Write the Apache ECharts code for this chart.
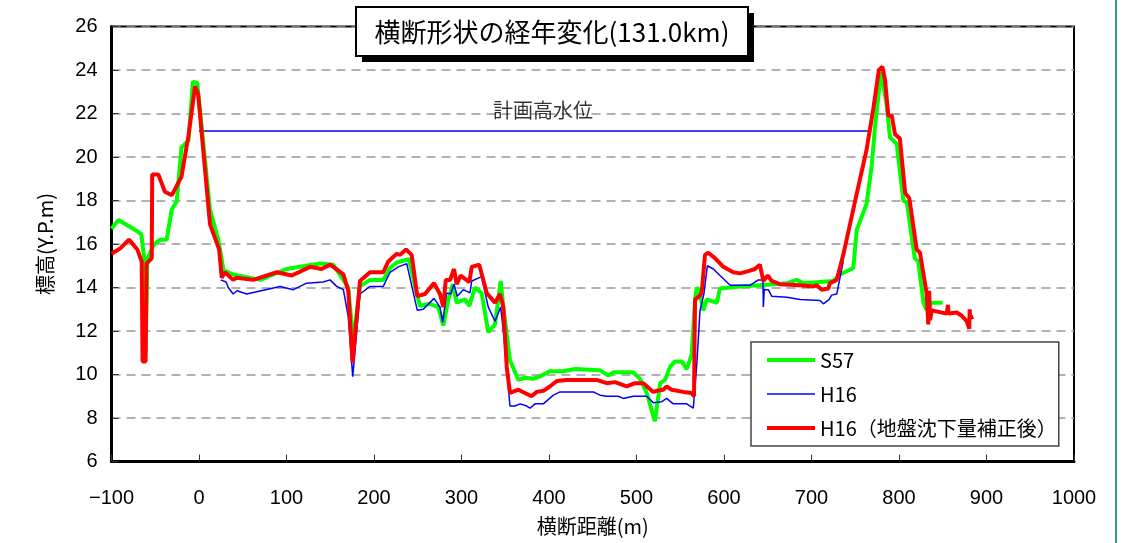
<!DOCTYPE html>
<html>
<head>
<meta charset="utf-8">
<script src="https://cdn.jsdelivr.net/npm/echarts@6/dist/echarts.min.js"></script>
<style>
html,body{margin:0;padding:0;background:#fff;}
#chart{width:1137px;height:543px;}
</style>
</head>
<body>
<div id="chart"></div>
<script>
// ---- data (横断距離 m, 標高 Y.P.m) ----
const titleText = '横断形状の経年変化(131.0km)';
const xAxisName = '横断距離(m)';
const yAxisName = '標高(Y.P.m)';
const seriesNames = ['S57', 'H16', 'H16（地盤沈下量補正後）'];
const hwlName = '計画高水位';
const xRange = [-100, 1000, 100];
const yRange = [6, 26, 2];

const s57 = [[-100,16.7],[-92,17.1],[-71,16.6],[-66,16.45],[-62.5,15.3],[-61,11.0],[-59.5,11.0],[-59,15.3],[-52,15.95],[-44.5,16.2],[-37,16.2],[-31,17.6],[-25.5,17.95],[-20,20.45],[-12,20.75],[-7,23.45],[-2,23.4],[12.5,17.6],[22,16.2],[28,14.8],[39,14.6],[70,14.35],[100,14.85],[138,15.1],[153.5,15.05],[170.5,14.0],[176.3,11.5],[184,14.05],[195.4,14.35],[210.6,14.35],[218.3,14.9],[226,15.15],[240,15.3],[248,13.85],[252.6,13.15],[264,13.25],[273.5,13.1],[279.2,12.25],[285,13.45],[290,14.15],[294.5,13.3],[304,13.45],[309,13.15],[315.4,14.0],[323,13.75],[330.6,11.95],[338.3,12.3],[344.8,14.3],[347.8,13.1],[355.4,10.65],[365,9.75],[372.6,9.85],[382,9.8],[391.7,9.95],[401,10.15],[416,10.15],[430,10.25],[458,10.2],[468,9.95],[473.5,10.1],[496,10.1],[504,9.8],[511.7,9.15],[521,7.85],[527,9.6],[532.6,9.75],[538.3,10.35],[544,10.6],[551.7,10.6],[557.4,10.25],[563,10.9],[567,13.45],[568.8,14.0],[571.8,13.85],[576.3,12.95],[580.2,13.45],[591.7,13.3],[595.4,13.95],[607,14.0],[618,14.05],[641,14.1],[672,14.2],[683,14.35],[690.6,14.2],[725,14.3],[732.6,14.6],[747.8,14.9],[751.7,16.65],[763,17.85],[768.8,19.6],[772.6,21.4],[779.4,23.9],[781,23.6],[786,22.35],[789.7,20.9],[797.4,20.6],[805,18.0],[809,17.9],[818,15.35],[822,15.2],[828,13.3],[831.7,12.95],[837.4,13.3],[850,13.3]];

const h16 = [[24.8,14.35],[31,14.25],[33.5,14.0],[39,13.7],[43.4,13.85],[54.5,13.7],[92.6,14.05],[107.8,13.9],[123,14.2],[142,14.25],[149.7,14.35],[157.4,14.05],[165,13.9],[170.6,12.65],[175.7,9.9],[184,13.7],[195.4,14.05],[210.6,14.05],[218.3,14.7],[227.8,14.95],[237.4,15.1],[249.5,12.95],[256.3,13.0],[268.6,13.5],[275.4,13.1],[278.5,12.4],[283,13.75],[287.7,13.7],[291.4,14.15],[295.2,13.6],[302,13.9],[309.7,13.75],[311.7,14.3],[323,14.5],[330.6,13.1],[338.3,12.45],[344.8,13.1],[348.6,11.7],[355.4,8.55],[361,8.55],[367,8.65],[374.5,8.55],[378.3,8.45],[384,8.65],[393.5,8.65],[405,9.05],[412.6,9.2],[450.6,9.2],[458.3,9.05],[466,9.0],[479,9.0],[485,8.9],[496.3,9.0],[511.7,9.0],[519.2,8.7],[528.8,8.75],[534.5,8.9],[542,8.65],[557.4,8.65],[564.9,8.45],[566.5,8.4],[568.8,10.4],[572.6,12.95],[577,13.7],[581,15.0],[587.8,14.85],[595.4,14.55],[607,14.1],[629.7,14.1],[639.2,14.35],[644.5,14.35],[645,13.1],[646,13.9],[650.6,13.9],[654.5,13.6],[671.7,13.55],[687,13.45],[709.7,13.4],[713.5,13.25],[720.3,13.45],[723,13.65],[728.8,13.7],[732.6,14.45],[736.3,15.2]];

const h16c = [[-100,15.55],[-90,15.8],[-80,16.2],[-70.5,15.75],[-65.5,15.2],[-64.5,10.6],[-61,10.6],[-60,15.1],[-54,15.35],[-53.5,19.2],[-46.5,19.2],[-39,18.4],[-31,18.25],[-20,19.1],[-12,21.0],[-4.5,23.25],[-3,23.3],[-1,22.9],[12.6,16.9],[23,15.75],[26,14.45],[29.7,14.7],[39,14.35],[43,14.45],[62,14.35],[89,14.7],[106,14.55],[127,14.95],[140,14.85],[150,15.05],[165,14.6],[170.6,13.85],[175.5,10.55],[184,14.3],[195.4,14.7],[210.6,14.7],[216.3,15.2],[226,15.55],[229.7,15.5],[236.6,15.75],[243,15.5],[249.5,13.6],[258.3,13.7],[268.6,14.2],[275.4,13.7],[279.2,13.1],[282,14.35],[287,14.35],[291.4,14.85],[294.5,14.15],[299,14.55],[309,14.25],[311.7,14.95],[320.3,15.05],[328.8,13.75],[338.3,13.3],[344,13.7],[347.8,13.1],[351.7,10.35],[355.4,9.15],[365,9.3],[380,9.0],[386,9.2],[393.5,9.25],[401,9.45],[409,9.7],[420,9.75],[454.5,9.75],[466,9.6],[475.4,9.65],[488.8,9.45],[498.3,9.6],[507.8,9.6],[519.2,9.2],[523,9.25],[530.6,9.3],[534.5,9.45],[540.2,9.3],[553.5,9.2],[563,9.15],[565.7,9.0],[566.9,13.45],[571.8,13.6],[574.5,13.75],[578.3,15.5],[582,15.6],[589.7,15.35],[599.2,14.95],[610.6,14.7],[618.3,14.65],[627.8,14.75],[635.4,14.85],[641,15.05],[645,14.3],[650,14.55],[654.5,14.3],[664,14.15],[687,14.1],[702,14.05],[706,14.1],[711.7,13.9],[719.2,13.95],[721,14.2],[728.8,14.35],[736.3,15.5],[749.7,17.95],[763,20.35],[770.6,22.2],[777,24.0],[781,24.15],[784,23.55],[787.8,21.9],[791.7,21.9],[795.4,21.05],[801,20.85],[807,18.35],[811.8,18.1],[820.2,15.75],[824,15.6],[831.7,13.7],[833.5,12.3],[834.5,13.85],[835.5,12.5],[837.4,12.95],[854.5,12.8],[856,13.2],[856.5,12.8],[866,12.85],[871.7,12.7],[877.4,12.45],[880.3,12.1],[880.8,13.0],[881.3,12.6],[885,12.65]];

const hwl = [[0,21.2],[765,21.2]];
const hwlLabelPos = [[393,21.2]];

// ---- chart ----
const JP = '"Noto Sans CJK JP", "Noto Sans", sans-serif';
const NUM = '"Liberation Sans", Arial, sans-serif';
const chart = echarts.init(document.getElementById('chart'), null, {renderer:'canvas'});

const thickIcon = 'path://M0 0H48V4H0Z';
const thinIcon = 'path://M0 0H48V1.5H0Z';

const option = {
  animation: false,
  backgroundColor: '#fff',
  grid: {left: 111.5, right: 63, top: 26.5, bottom: 81.5, show: true, borderColor: '#000', borderWidth: 2, backgroundColor: 'transparent'},
  legend: {
    data: [
      {name: seriesNames[0], icon: thickIcon},
      {name: seriesNames[1], icon: thinIcon},
      {name: seriesNames[2], icon: thickIcon}
    ],
    orient: 'vertical',
    left: 751, top: 342,
    padding: [8, 2, 8, 16],
    itemWidth: 48, itemHeight: 14, itemGap: 14,
    symbolKeepAspect: true,
    backgroundColor: '#fff', borderColor: '#444', borderWidth: 1.5,
    textStyle: {fontSize: 20, fontFamily: JP, color: '#000'},
    z: 50
  },
  xAxis: {
    type: 'value', min: xRange[0], max: xRange[1], interval: xRange[2],
    name: xAxisName, nameLocation: 'middle', nameGap: 55,
    nameTextStyle: {fontSize: 20, fontFamily: JP, color: '#000'},
    axisLine: {onZero: false, lineStyle: {color: '#000', width: 3}},
    axisTick: {inside: true, length: 7, lineStyle: {color: '#333', width: 1}},
    axisLabel: {fontSize: 20, fontFamily: NUM, color: '#000', margin: 27,
      formatter: v => String(v).replace('-', '\u2212')},
    splitLine: {show: false}
  },
  yAxis: {
    type: 'value', min: yRange[0], max: yRange[1], interval: yRange[2],
    name: yAxisName, nameLocation: 'middle', nameGap: 56, nameRotate: 90,
    nameTextStyle: {fontSize: 20, fontFamily: JP, color: '#000'},
    axisLine: {onZero: false, lineStyle: {color: '#000', width: 3}},
    axisTick: {inside: true, length: 7, lineStyle: {color: '#333', width: 1}},
    axisLabel: {fontSize: 20, fontFamily: NUM, color: '#000', margin: 14},
    splitLine: {show: true, lineStyle: {color: '#999', width: 1.5, type: [9, 6]}}
  },
  series: [
    {name: hwlName, type: 'line', data: hwl, symbol: 'none', silent: true,
     lineStyle: {color: '#0000ff', width: 1.5}, itemStyle: {color: '#0000ff'}, z: 2},
    {name: seriesNames[0], type: 'line', data: s57, symbol: 'none',
     lineStyle: {color: '#00ff00', width: 4}, itemStyle: {color: '#00ff00'}, z: 3},
    {name: seriesNames[1], type: 'line', data: h16, symbol: 'none',
     lineStyle: {color: '#0000ff', width: 1.5}, itemStyle: {color: '#0000ff'}, z: 4},
    {name: seriesNames[2], type: 'line', data: h16c, symbol: 'none',
     lineStyle: {color: '#ff0000', width: 4}, itemStyle: {color: '#ff0000'}, z: 5},
    {name: 'hwlLabel', type: 'scatter', data: hwlLabelPos, symbol: 'circle', symbolSize: 0, silent: true,
     itemStyle: {color: 'transparent'},
     label: {show: true, position: 'top', distance: 10, formatter: hwlName, fontSize: 20, fontFamily: JP, color: '#000'}, z: 6}
  ],
  graphic: [
    {type: 'line', shape: {x1: 1116, y1: 0, x2: 1116, y2: 543}, style: {stroke: '#3a9c6c', lineWidth: 2}, z: 100},
    {type: 'rect', shape: {x: 362, y: 13, width: 392, height: 49}, style: {fill: '#000'}, z: 100},
    {type: 'rect', shape: {x: 356, y: 7, width: 392, height: 49}, style: {fill: '#fff', stroke: '#000', lineWidth: 2}, z: 101},
    {type: 'text', x: 552, y: 32, style: {text: titleText, fontSize: 26, fontFamily: JP, fill: '#000', align: 'center', verticalAlign: 'middle'}, z: 102}
  ]
};
chart.setOption(option);
</script>
</body>
</html>
